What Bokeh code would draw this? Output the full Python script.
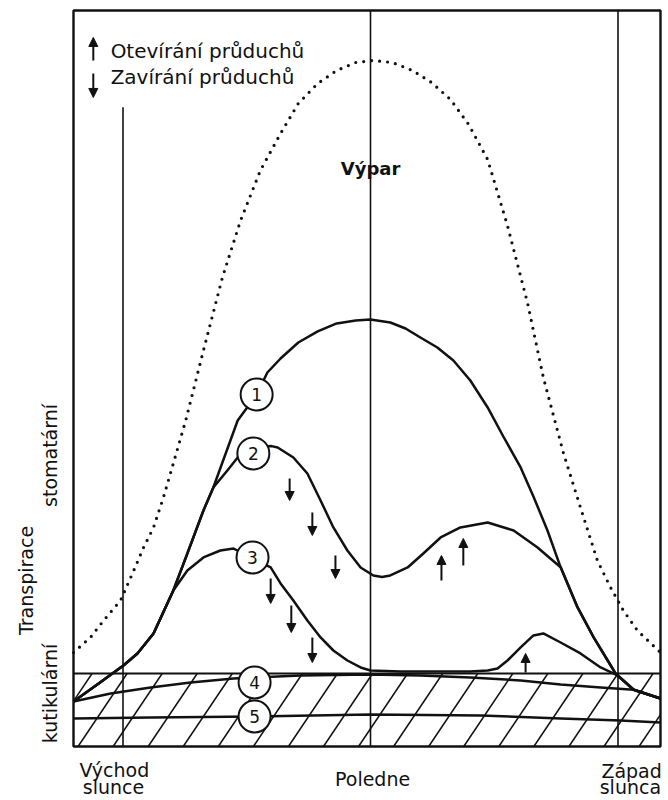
import numpy as np
from bokeh.plotting import figure
from bokeh.models import Range1d, ColumnDataSource, Arrow, NormalHead
from bokeh.core.properties import value
from bokeh.embed import file_html
from bokeh.resources import INLINE

# ---------------- data (x: hour of day, y: relative transpiration units) ----------------
SUNRISE, NOON, SUNSET = 6.0, 12.0, 18.0
X_MIN, X_MAX = 4.80, 19.03      # frame of the diagram
Y_MIN, Y_MAX = 0.0, 92.0
CUTICULAR_TOP = 9.125           # top of hatched (cuticular) band
SUNRISE_LINE_TOP = 79.9

vypar_h = [4.80, 5.21, 5.53, 5.94, 6.23, 6.50, 6.74, 6.98, 7.22, 7.52, 7.95, 8.41, 8.85, 9.33, 9.82, 10.25,
           10.72, 11.18, 11.64, 12.05, 12.53, 13.02, 13.48, 13.94, 14.38, 14.84, 15.32, 15.81, 16.19, 16.68,
           17.09, 17.50, 17.82, 18.13, 18.47, 19.03]
vypar_v = [11.75, 13.63, 15.75, 18.25, 21.63, 24.88, 27.38, 31.13, 35.38, 40.75, 49.5, 58.63, 65.75, 72.0,
           76.63, 80.38, 82.88, 84.5, 85.5, 85.75, 85.5, 84.5, 83.0, 80.88, 77.75, 73.38, 65.13, 55.38, 46.13,
           36.63, 29.88, 23.25, 19.88, 17.0, 14.5, 11.75]

c1_h = [4.80, 5.41, 6.01, 6.35, 6.74, 7.22, 7.56, 7.95, 8.19, 8.41, 8.78, 9.24, 9.50, 9.82, 10.25, 10.72, 11.18,
        11.64, 12.00, 12.48, 12.85, 13.21, 13.62, 14.01, 14.42, 14.84, 15.22, 15.64, 15.95, 16.29, 16.61, 17.02,
        17.41, 17.75, 17.94, 18.38, 19.03]
c1_v = [5.63, 7.88, 10.13, 11.63, 14.13, 19.5, 24.13, 29.5, 32.38, 35.5, 40.75, 44.0, 46.75, 48.5, 50.5, 51.88,
        52.88, 53.25, 53.38, 53.0, 52.25, 51.13, 49.88, 48.25, 45.75, 42.38, 38.75, 34.88, 31.25, 27.0, 22.4,
        17.38, 13.63, 10.75, 9.13, 7.1, 6.0]

c2_h = [4.80, 5.41, 6.01, 6.35, 6.74, 7.22, 7.56, 7.95, 8.19, 8.53, 8.78, 9.16, 9.45, 9.60, 9.75, 10.13, 10.47,
        10.79, 11.10, 11.44, 11.76, 12.07, 12.28, 12.48, 12.90, 13.28, 13.70, 14.18, 14.84, 15.47, 16.05, 16.36,
        16.61, 17.02, 17.41, 17.75, 17.94, 18.38, 19.03]
c2_v = [5.63, 7.88, 10.13, 11.63, 14.13, 19.5, 24.13, 29.5, 32.38, 34.5, 36.13, 36.75, 37.5, 37.55, 37.38, 36.13,
        34.13, 30.75, 27.38, 24.5, 22.38, 21.38, 21.2, 21.38, 22.38, 24.13, 26.13, 27.38, 28.0, 27.0, 24.88, 23.5,
        22.4, 17.38, 13.63, 10.75, 9.13, 7.1, 6.0]

c3_h = [4.80, 5.41, 6.01, 6.35, 6.74, 7.22, 7.56, 7.95, 8.36, 8.68, 9.09, 9.58, 9.82, 10.13, 10.47, 10.79, 11.10,
        11.44, 11.76, 12.00, 12.73, 13.70, 14.42, 14.84, 15.08, 15.32, 15.64, 15.95, 16.19, 16.61, 17.09, 17.58,
        17.99, 18.38, 19.03]
c3_v = [5.63, 7.88, 10.13, 11.63, 14.13, 19.5, 22.0, 23.63, 24.5, 24.75, 23.63, 22.38, 20.38, 18.25, 15.75, 13.63,
        12.0, 10.75, 9.88, 9.5, 9.38, 9.38, 9.38, 9.5, 9.75, 10.75, 12.38, 13.88, 14.13, 13.0, 11.63, 9.88, 8.88,
        7.1, 6.0]

c4_h = [4.80, 5.70, 6.67, 7.64, 8.68, 9.19, 10.30, 12.00, 13.21, 14.42, 15.64, 16.61, 17.58, 18.38, 19.03]
c4_v = [5.63, 6.63, 7.38, 8.0, 8.5, 8.63, 8.88, 9.0, 8.88, 8.63, 8.25, 7.75, 7.38, 7.1, 6.0]

c5_h = [4.80, 6.67, 9.19, 12.00, 14.67, 16.61, 18.06, 19.03]
c5_v = [3.5, 3.63, 3.75, 4.0, 3.88, 3.5, 3.25, 3.0]

label_h = [9.24, 9.16, 9.14, 9.19, 9.19]
label_v = [44.0, 36.63, 23.63, 8.0, 3.75]
label_t = ["1", "2", "3", "4", "5"]

close_h = [10.04, 10.59, 11.15, 9.58, 10.08, 10.59]
close_v0 = [33.5, 29.25, 23.88, 21.0, 17.63, 13.63]
close_v1 = [30.75, 26.38, 21.0, 17.88, 14.25, 10.5]
open_h = [13.72, 14.25, 15.76]
open_v0 = [20.75, 22.63, 9.25]
open_v1 = [23.88, 26.0, 11.63]

legend_texts = ["Otevírání průduchů", "Zavírání průduchů"]
axis_texts = ["Transpirace", "stomatární", "kutikulární"]
time_texts = ["Východ", "slunce", "Poledne", "Západ", "slunca"]

# ---------------- figure ----------------
W, H = 668, 800
PX_PER_H, PX_PER_V = 41.25, 8.0
x0 = NOON - 370 / PX_PER_H
y1 = 746 / PX_PER_V
p = figure(width=W, height=H, output_backend="svg", toolbar_location=None,
           x_range=Range1d(x0, x0 + W / PX_PER_H), y_range=Range1d(y1 - H / PX_PER_V, y1),
           x_axis_type=None, y_axis_type=None, min_border=0)
p.outline_line_color = None
p.background_fill_color = "white"
p.border_fill_color = "white"

INK = "#111111"
FONT = value("DejaVu Sans")

# hatched cuticular band (diagonal strokes clipped to the band)
run = 1.19
spacing = 0.85
phase = 10.86
xs0, ys0, xs1, ys1 = [], [], [], []
for b in np.arange(phase - 20 * spacing, X_MAX + spacing, spacing):
    xa, ya, xb, yb = b, Y_MIN, b + run, CUTICULAR_TOP
    if xb <= X_MIN or xa >= X_MAX:
        continue
    if xa < X_MIN:
        ya = (X_MIN - b) / run * CUTICULAR_TOP
        xa = X_MIN
    if xb > X_MAX:
        yb = (X_MAX - b) / run * CUTICULAR_TOP
        xb = X_MAX
    xs0.append(xa); ys0.append(ya); xs1.append(xb); ys1.append(yb)
p.segment(x0=xs0, y0=ys0, x1=xs1, y1=ys1, line_color=INK, line_width=1.5)
p.segment(x0=[X_MIN], y0=[CUTICULAR_TOP], x1=[X_MAX], y1=[CUTICULAR_TOP], line_color=INK, line_width=1.8)

# vertical time lines
p.segment(x0=[SUNRISE, NOON, SUNSET], y0=[Y_MIN] * 3, x1=[SUNRISE, NOON, SUNSET],
          y1=[SUNRISE_LINE_TOP, Y_MAX, Y_MAX], line_color=INK, line_width=1.6)

# frame
p.quad(left=[X_MIN], right=[X_MAX], bottom=[Y_MIN], top=[Y_MAX], fill_color=None,
       line_color=INK, line_width=2.4)

# evaporation (dotted)
p.line(vypar_h, vypar_v, line_color=INK, line_width=3.2, line_dash="0 8", line_cap="round")

# transpiration curves
for hh, vv in [(c5_h, c5_v), (c4_h, c4_v), (c3_h, c3_v), (c2_h, c2_v), (c1_h, c1_v)]:
    p.line(hh, vv, line_color=INK, line_width=2.5, line_join="round")

# numbered circles
p.scatter(label_h, label_v, marker="circle", size=32, fill_color="white", line_color=INK, line_width=2)
p.text(label_h, label_v, text=label_t, text_font=FONT, text_font_size=value("17px"),
       text_align="center", text_baseline="middle", text_color=INK)

# stomata arrows
head = dict(size=9, fill_color=INK, line_color=INK)
src_close = ColumnDataSource(dict(x=close_h, y0=close_v0, y1=close_v1))
src_open = ColumnDataSource(dict(x=open_h, y0=open_v0, y1=open_v1))
p.add_layout(Arrow(end=NormalHead(**head), x_start="x", y_start="y0", x_end="x", y_end="y1",
                   source=src_close, line_color=INK, line_width=2))
p.add_layout(Arrow(end=NormalHead(**head), x_start="x", y_start="y0", x_end="x", y_end="y1",
                   source=src_open, line_color=INK, line_width=2))

# legend
leg_x = 5.28
src_leg = ColumnDataSource(dict(x=[leg_x, leg_x], y0=[85.75, 84.13], y1=[88.63, 81.13]))
p.add_layout(Arrow(end=NormalHead(**head), x_start="x", y_start="y0", x_end="x", y_end="y1",
                   source=src_leg, line_color=INK, line_width=2))
p.text([5.70, 5.70], [87.0, 83.75], text=legend_texts, text_font=FONT, text_font_size=value("20px"),
       text_align="left", text_baseline="middle", text_color=INK)

p.text([NOON], [72.25], text=["Výpar"], text_font=FONT, text_font_size=value("18px"),
       text_font_style="bold", text_align="center", text_baseline="middle", text_color=INK)

# y-axis labels (rotated)
p.text([3.64, 4.24, 4.24], [20.75, 36.38, 6.63], text=axis_texts, angle=np.pi / 2,
       text_font=FONT, text_font_size=value("19px"), text_align="center", text_baseline="middle",
       text_color=INK)

# time labels
p.text([5.79, 5.77, 12.05, 18.33, 18.30], [-2.9, -5.0, -4.0, -3.0, -5.0], text=time_texts,
       text_font=FONT, text_font_size=value("19px"), text_align="center", text_baseline="middle",
       text_color=INK)

open("out.html", "w").write(file_html(p, INLINE))
